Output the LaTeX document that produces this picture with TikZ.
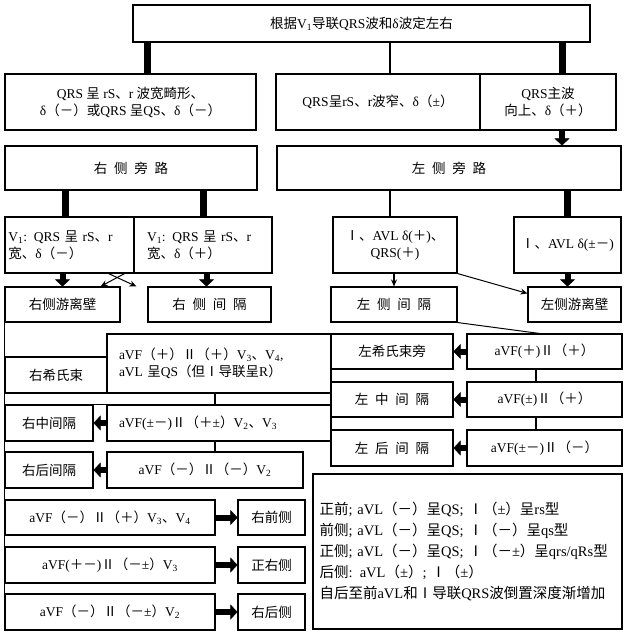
\documentclass[tikz,border=0pt]{standalone}
\usepackage{fontspec}
\setmainfont{Liberation Serif}
\newfontfamily\cjkfont{Noto Sans CJK SC}
% switch to the CJK family for CJK characters
\XeTeXinterchartokenstate=1
\newXeTeXintercharclass\cjkclass
\newcount\chcnt
\chcnt="3000 \loop\XeTeXcharclass\chcnt=\cjkclass\ifnum\chcnt<"303F \advance\chcnt by 1 \repeat
\chcnt="4E00 \loop\XeTeXcharclass\chcnt=\cjkclass\ifnum\chcnt<"9FFF \advance\chcnt by 1 \repeat
\chcnt="FF00 \loop\XeTeXcharclass\chcnt=\cjkclass\ifnum\chcnt<"FFEF \advance\chcnt by 1 \repeat
\chcnt="2160 \loop\XeTeXcharclass\chcnt=\cjkclass\ifnum\chcnt<"216F \advance\chcnt by 1 \repeat
\XeTeXinterchartoks 0 \cjkclass={\begingroup\cjkfont}
\XeTeXinterchartoks 4095 \cjkclass={\begingroup\cjkfont}
\XeTeXinterchartoks \cjkclass 0={\endgroup}
\XeTeXinterchartoks \cjkclass 4095={\endgroup}
\usepackage{tikz}
\usetikzlibrary{arrows.meta}

\begin{document}
\begin{tikzpicture}[x=1pt,y=-1pt,
  box/.style={draw,line width=1.1pt,inner sep=1pt,align=center,font=\fontsize{13.5}{17}\selectfont},
  bar/.style={line width=7pt},
  fat/.style={line width=6pt,-{Triangle[width=15pt,length=7pt,line width=0.5pt]}},
  link/.style={line width=1.6pt},
  thinarr/.style={line width=1.3pt,-{Stealth[length=7pt,width=6pt]}}]
  \useasboundingbox (0,0) rectangle (630,634);
  % rows above
  \node[box,minimum width=457pt,minimum height=37pt] (top) at (361.5,23.5) {根据V\textsubscript{1}导联QRS波和δ波定左右};
  \node[box,minimum width=251pt,minimum height=56pt] (wideqrs) at (130.5,102) {QRS 呈 rS、r 波宽畸形、\\δ（－）或QRS 呈QS、δ（－）};
  \node[box,minimum width=204pt,minimum height=56pt] (narrowqrs) at (378,102) {QRS呈rS、r波窄、δ（±）};
  \node[box,minimum width=136pt,minimum height=56pt] (upqrs) at (548,102) {QRS主波\\向上、δ（＋）};
  \node[box,minimum width=252pt,minimum height=44pt] (rpath) at (131,168) {右\hspace{.5em}侧\hspace{.5em}旁\hspace{.5em}路};
  \node[box,minimum width=344pt,minimum height=44pt] (lpath) at (449,168) {左\hspace{.5em}侧\hspace{.5em}旁\hspace{.5em}路};
  \node[box,minimum width=129pt,minimum height=56pt,text width=122pt,align=left] (rneg) at (69.5,245) {V\textsubscript{1}: QRS 呈 rS、r\\宽、δ（－）};
  \node[box,minimum width=138pt,minimum height=56pt,text width=112pt,align=left] (rpos) at (203,245) {V\textsubscript{1}: QRS 呈 rS、r\\宽、δ（＋）};
  \node[box,minimum width=124pt,minimum height=56pt] (lpos) at (395,245) {Ⅰ、AVL δ(＋)、\\QRS(＋)};
  \node[box,minimum width=107pt,minimum height=56pt] (lpm) at (567.5,245) {Ⅰ、AVL δ(±－)};
  \node[box,minimum width=115pt,minimum height=35pt] (rfree) at (62.5,304.5) {右侧游离壁};
  \node[box,minimum width=123pt,minimum height=35pt] (rsept) at (209.5,304.5) {右\hspace{.5em}侧\hspace{.5em}间\hspace{.5em}隔};
  \node[box,minimum width=126pt,minimum height=35pt] (lsept) at (394,304.5) {左\hspace{.5em}侧\hspace{.5em}间\hspace{.5em}隔};
  \node[box,minimum width=93pt,minimum height=35pt] (lfree) at (574.5,304.5) {左侧游离壁};
  % right side pathways
  \node[box,minimum width=224pt,minimum height=59pt,text width=200pt,align=left] (rhisc) at (219,363.5) {aVF（＋）Ⅱ（＋）V\textsubscript{3}、V\textsubscript{4},\\aVL 呈QS（但Ⅰ导联呈R）};
  \node[box,minimum width=102pt,minimum height=36pt] (rhis) at (56,375) {右希氏束};
  \node[box,minimum width=88pt,minimum height=36pt] (rmid) at (49,423) {右中间隔};
  \node[box,minimum width=224pt,minimum height=36pt,text width=200pt,align=left] (rmidc) at (219,423) {aVF(±－)Ⅱ（＋±）V\textsubscript{2}、V\textsubscript{3}};
  \node[box,minimum width=88pt,minimum height=36pt] (rpost) at (49,470) {右后间隔};
  \node[box,minimum width=196pt,minimum height=36pt] (rpostc) at (205,470) {aVF（－）Ⅱ（－）V\textsubscript{2}};
  \node[box,minimum width=210pt,minimum height=35pt] (rantc) at (110,517.5) {aVF（－）Ⅱ（＋）V\textsubscript{3}、V\textsubscript{4}};
  \node[box,minimum width=67pt,minimum height=35pt] (rant) at (271.5,517.5) {右前侧};
  \node[box,minimum width=210pt,minimum height=36pt] (rlatc) at (110,565) {aVF(＋－)Ⅱ（－±）V\textsubscript{3}};
  \node[box,minimum width=67pt,minimum height=36pt] (rlat) at (271.5,565) {正右侧};
  \node[box,minimum width=210pt,minimum height=36pt] (rplc) at (110,612) {aVF（－）Ⅱ（－±）V\textsubscript{2}};
  \node[box,minimum width=67pt,minimum height=36pt] (rpl) at (271.5,612) {右后侧};
  % left side pathways
  \node[box,minimum width=122pt,minimum height=35pt] (lhis) at (392,351.5) {左希氏束旁};
  \node[box,minimum width=155pt,minimum height=35pt] (lhisc) at (544.5,351.5) {aVF(＋)Ⅱ（＋）};
  \node[box,minimum width=122pt,minimum height=35pt] (lmid) at (392,399.5) {左\hspace{.5em}中\hspace{.5em}间\hspace{.5em}隔};
  \node[box,minimum width=155pt,minimum height=35pt] (lmidc) at (544.5,399.5) {aVF(±)Ⅱ（＋）};
  \node[box,minimum width=122pt,minimum height=36pt] (lpost) at (392,448) {左\hspace{.5em}后\hspace{.5em}间\hspace{.5em}隔};
  \node[box,minimum width=155pt,minimum height=36pt] (lpostc) at (544.5,448) {aVF(±－)Ⅱ（－）};
  \node[box,minimum width=309pt,minimum height=155pt,text width=296pt,align=left,font=\fontsize{14.5}{21}\selectfont] (note) at (467.5,551.5) {正前; aVL（－）呈QS; Ⅰ（±）呈rs型\\前侧; aVL（－）呈QS; Ⅰ（－）呈qs型\\正侧; aVL（－）呈QS; Ⅰ（－±）呈qrs/qRs型\\后侧: aVL（±）; Ⅰ（±）\\自后至前aVL和Ⅰ导联QRS波倒置深度渐增加};
  % connectors
  \draw[bar] ([xshift=15pt]top.south west) -- ([xshift=15pt]top.south west |- wideqrs.north);
  \draw[link] ([xshift=12pt]narrowqrs.north) -- ([xshift=12pt]narrowqrs.north |- top.south);
  \draw[bar] ([xshift=14pt]upqrs.north) -- ([xshift=14pt]upqrs.north |- top.south);
  \draw[fat] ([xshift=14pt]upqrs.south) -- ([xshift=14pt]upqrs.south |- lpath.north);
  \draw[bar] ([xshift=-4pt]rneg.north |- rpath.south) -- ([xshift=-4pt]rneg.north);
  \draw[bar] (rpos.north |- rpath.south) -- (rpos.north);
  \draw[link] ([xshift=-5pt]lpos.north |- lpath.south) -- ([xshift=-5pt]lpos.north);
  \draw[bar] (lpm.north |- lpath.south) -- (lpm.north);
  \draw[fat] (rfree.north |- rneg.south) -- (rfree.north);
  \draw[fat] ([xshift=-3pt]rsept.north |- rpos.south) -- ([xshift=-3pt]rsept.north);
  \draw[thinarr] (lsept.north |- lpos.south) -- (lsept.north);
  \draw[fat] (lpm.south) -- (lpm.south |- lfree.north);
  \draw[thinarr,line width=1pt] (lpos.south east) -- ([yshift=-7pt]lfree.north west);
  \draw[thinarr,line width=1pt] ([xshift=-10pt]rneg.south east) -- ([xshift=-20pt]rfree.north east);
  \draw[thinarr,line width=1pt] ([xshift=-26pt]rneg.south east) -- ([xshift=-11pt]rsept.north west);
  \draw[line width=1pt] (lsept.south east) -- ([xshift=-5pt]lhisc.north);
  \draw[line width=1.1pt] (rfree.south west) -- (rplc.south west);
  \draw[line width=1.1pt] (rmid.north west) -- (rmidc.north east);
  \draw[line width=1.1pt] (lhis.north west) -- (lpost.south west);
  \draw[link] ([xshift=-4pt]rmidc.north) -- ([xshift=-4pt]rmidc.north |- rhisc.south);
  \draw[link] ([xshift=-4pt]rmidc.south) -- ([xshift=-4pt]rmidc.south |- rpostc.north);
  \draw[link] ([xshift=-8.5pt]lmidc.north) -- ([xshift=-8.5pt]lmidc.north |- lhisc.south);
  \draw[link] ([xshift=-8.5pt]lmidc.south) -- ([xshift=-8.5pt]lmidc.south |- lpostc.north);
  \draw[fat] (lhisc.west) -- (lhis.east);
  \draw[fat] (lmidc.west) -- (lmid.east);
  \draw[fat] (lpostc.west) -- (lpost.east);
  \draw[fat] (rmidc.west) -- (rmid.east);
  \draw[fat] (rpostc.west) -- (rpost.east);
  \draw[fat] (rantc.east) -- (rant.west);
  \draw[fat] (rlatc.east) -- (rlat.west);
  \draw[fat] (rplc.east) -- (rpl.west);
\end{tikzpicture}
\end{document}
